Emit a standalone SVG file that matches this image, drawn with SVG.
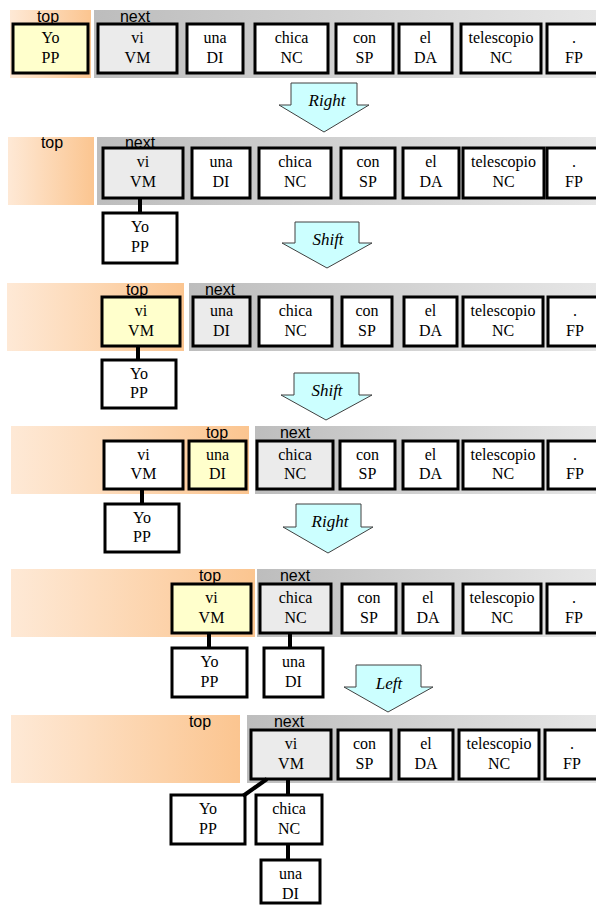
<svg xmlns="http://www.w3.org/2000/svg" width="596" height="905" viewBox="0 0 596 905">
<defs>
<linearGradient id="gTop" x1="0" y1="0" x2="1" y2="0"><stop offset="0" stop-color="#fee9d6"/><stop offset="1" stop-color="#fbc590"/></linearGradient>
<linearGradient id="gNext" x1="0" y1="0" x2="1" y2="0"><stop offset="0" stop-color="#bdbdbd"/><stop offset="1" stop-color="#e6e6e6"/></linearGradient>
<style>
.n{font-family:'Liberation Serif','Times New Roman',serif;font-size:16px;text-anchor:middle}
.n rect{stroke:#000;stroke-width:3;fill:#fff}
.n.g rect{fill:#ebebeb}
.n.y rect{fill:#ffffcc}
.lbl{font-family:'Liberation Sans',Arial,sans-serif;font-size:16px;text-anchor:middle;fill:#000}
.tb{fill:url(#gTop)}
.nb{fill:url(#gNext)}
.arr{font-family:'Liberation Serif','Times New Roman',serif;font-style:italic;font-size:17px;text-anchor:middle}
.arr path{fill:#ccffff;stroke:#404040;stroke-width:1}
.c line{stroke:#000;stroke-width:4}
</style>
</defs>

<g id="row1">
<rect class="tb" x="10" y="10" width="81" height="68"/>
<rect class="nb" x="94" y="10" width="502" height="68"/>
<text class="lbl" x="48" y="22">top</text>
<text class="lbl" x="135" y="22">next</text>
<g id="r1-yo" class="n y"><rect x="13" y="24" width="75" height="49"/><text x="50.5" y="43">Yo</text><text x="50.5" y="63">PP</text></g>
<g id="r1-vi" class="n g"><rect x="98" y="24" width="79" height="49"/><text x="137.5" y="43">vi</text><text x="137.5" y="63">VM</text></g>
<g id="r1-una" class="n"><rect x="187" y="24" width="56" height="49"/><text x="215" y="43">una</text><text x="215" y="63">DI</text></g>
<g id="r1-chica" class="n"><rect x="255" y="24" width="73" height="49"/><text x="291.5" y="43">chica</text><text x="291.5" y="63">NC</text></g>
<g id="r1-con" class="n"><rect x="336" y="24" width="57" height="49"/><text x="364.5" y="43">con</text><text x="364.5" y="63">SP</text></g>
<g id="r1-el" class="n"><rect x="399" y="24" width="53" height="49"/><text x="425.5" y="43">el</text><text x="425.5" y="63">DA</text></g>
<g id="r1-tel" class="n"><rect x="461" y="24" width="80" height="49"/><text x="501" y="43">telescopio</text><text x="501" y="63">NC</text></g>
<g id="r1-fp" class="n"><rect x="547" y="24" width="54" height="49"/><text x="574" y="43">.</text><text x="574" y="63">FP</text></g>
</g>

<g id="arrow1" class="arr"><path d="M291,83 H357 V105 H369 L324,132 L279,105 H291 Z"/><text x="327" y="106">Right</text></g>

<g id="row2">
<rect class="tb" x="8" y="137" width="86" height="68"/>
<rect class="nb" x="97" y="137" width="499" height="68"/>
<text class="lbl" x="52" y="148">top</text>
<text class="lbl" x="140" y="148">next</text>
<g id="r2-vi" class="n g"><rect x="103" y="148" width="80" height="50"/><text x="143" y="167">vi</text><text x="143" y="187">VM</text></g>
<g id="r2-una" class="n"><rect x="192" y="148" width="58" height="50"/><text x="221" y="167">una</text><text x="221" y="187">DI</text></g>
<g id="r2-chica" class="n"><rect x="259" y="148" width="72" height="50"/><text x="295" y="167">chica</text><text x="295" y="187">NC</text></g>
<g id="r2-con" class="n"><rect x="341" y="148" width="54" height="50"/><text x="368" y="167">con</text><text x="368" y="187">SP</text></g>
<g id="r2-el" class="n"><rect x="403" y="148" width="56" height="50"/><text x="431" y="167">el</text><text x="431" y="187">DA</text></g>
<g id="r2-tel" class="n"><rect x="463" y="148" width="81" height="50"/><text x="503.5" y="167">telescopio</text><text x="503.5" y="187">NC</text></g>
<g id="r2-fp" class="n"><rect x="547" y="148" width="54" height="50"/><text x="574" y="167">.</text><text x="574" y="187">FP</text></g>
<g id="r2-yo" class="n"><rect x="103" y="213" width="74" height="50"/><text x="140" y="232">Yo</text><text x="140" y="252">PP</text></g>
</g>

<g id="arrow2" class="arr"><path d="M295,222 H359 V243 H372 L327,268 L282,243 H295 Z"/><text x="328" y="245">Shift</text></g>

<g id="row3">
<rect class="tb" x="7" y="283" width="177" height="68"/>
<rect class="nb" x="189" y="283" width="407" height="68"/>
<text class="lbl" x="137" y="295">top</text>
<text class="lbl" x="220" y="295">next</text>
<g id="r3-vi" class="n y"><rect x="102" y="297" width="78" height="49"/><text x="141" y="316">vi</text><text x="141" y="336">VM</text></g>
<g id="r3-una" class="n g"><rect x="193" y="297" width="57" height="49"/><text x="221.5" y="316">una</text><text x="221.5" y="336">DI</text></g>
<g id="r3-chica" class="n"><rect x="259" y="297" width="73" height="49"/><text x="295.5" y="316">chica</text><text x="295.5" y="336">NC</text></g>
<g id="r3-con" class="n"><rect x="342" y="297" width="50" height="49"/><text x="367" y="316">con</text><text x="367" y="336">SP</text></g>
<g id="r3-el" class="n"><rect x="404" y="297" width="53" height="49"/><text x="430.5" y="316">el</text><text x="430.5" y="336">DA</text></g>
<g id="r3-tel" class="n"><rect x="463" y="297" width="80" height="49"/><text x="503" y="316">telescopio</text><text x="503" y="336">NC</text></g>
<g id="r3-fp" class="n"><rect x="548" y="297" width="54" height="49"/><text x="575" y="316">.</text><text x="575" y="336">FP</text></g>
<g id="r3-yo" class="n"><rect x="102" y="360" width="74" height="48"/><text x="139" y="379">Yo</text><text x="139" y="398">PP</text></g>
</g>

<g id="arrow3" class="arr"><path d="M294,373 H359 V395 H372 L326,420 L281,395 H294 Z"/><text x="327" y="396">Shift</text></g>

<g id="row4">
<rect class="tb" x="11" y="426" width="238" height="68"/>
<rect class="nb" x="255" y="426" width="341" height="68"/>
<text class="lbl" x="217" y="438">top</text>
<text class="lbl" x="295" y="438">next</text>
<g id="r4-vi" class="n"><rect x="104" y="441" width="79" height="48"/><text x="143.5" y="460">vi</text><text x="143.5" y="479">VM</text></g>
<g id="r4-una" class="n y"><rect x="189" y="441" width="57" height="48"/><text x="217.5" y="460">una</text><text x="217.5" y="479">DI</text></g>
<g id="r4-chica" class="n g"><rect x="257" y="441" width="76" height="48"/><text x="295" y="460">chica</text><text x="295" y="479">NC</text></g>
<g id="r4-con" class="n"><rect x="340" y="441" width="55" height="48"/><text x="367.5" y="460">con</text><text x="367.5" y="479">SP</text></g>
<g id="r4-el" class="n"><rect x="403" y="441" width="55" height="48"/><text x="430.5" y="460">el</text><text x="430.5" y="479">DA</text></g>
<g id="r4-tel" class="n"><rect x="463" y="441" width="80" height="48"/><text x="503" y="460">telescopio</text><text x="503" y="479">NC</text></g>
<g id="r4-fp" class="n"><rect x="548" y="441" width="54" height="48"/><text x="575" y="460">.</text><text x="575" y="479">FP</text></g>
<g id="r4-yo" class="n"><rect x="105" y="504" width="74" height="48"/><text x="142" y="523">Yo</text><text x="142" y="542">PP</text></g>
</g>

<g id="arrow4" class="arr"><path d="M296,504 H361 V527 H373 L328,553 L283,527 H296 Z"/><text x="330" y="527">Right</text></g>

<g id="row5">
<rect class="tb" x="11" y="569" width="244" height="68"/>
<rect class="nb" x="257" y="569" width="339" height="68"/>
<text class="lbl" x="210" y="581">top</text>
<text class="lbl" x="295" y="581">next</text>
<g id="r5-vi" class="n y"><rect x="172" y="584" width="79" height="49"/><text x="211.5" y="603">vi</text><text x="211.5" y="623">VM</text></g>
<g id="r5-chica" class="n g"><rect x="260" y="584" width="71" height="49"/><text x="295.5" y="603">chica</text><text x="295.5" y="623">NC</text></g>
<g id="r5-con" class="n"><rect x="342" y="584" width="54" height="49"/><text x="369" y="603">con</text><text x="369" y="623">SP</text></g>
<g id="r5-el" class="n"><rect x="403" y="584" width="50" height="49"/><text x="428" y="603">el</text><text x="428" y="623">DA</text></g>
<g id="r5-tel" class="n"><rect x="463" y="584" width="78" height="49"/><text x="502" y="603">telescopio</text><text x="502" y="623">NC</text></g>
<g id="r5-fp" class="n"><rect x="547" y="584" width="54" height="49"/><text x="574" y="603">.</text><text x="574" y="623">FP</text></g>
<g id="r5-yo" class="n"><rect x="172" y="648" width="75" height="49"/><text x="209.5" y="667">Yo</text><text x="209.5" y="687">PP</text></g>
<g id="r5-una" class="n"><rect x="264" y="648" width="59" height="49"/><text x="293.5" y="667">una</text><text x="293.5" y="687">DI</text></g>
</g>

<g id="arrow5" class="arr"><path d="M356,665 H421 V687 H433 L388,712 L344,687 H356 Z"/><text x="389" y="689">Left</text></g>

<g id="row6">
<rect class="tb" x="11" y="715" width="229" height="68"/>
<rect class="nb" x="247" y="715" width="349" height="68"/>
<text class="lbl" x="200" y="727">top</text>
<text class="lbl" x="289" y="727">next</text>
<g id="r6-vi" class="n g"><rect x="251" y="730" width="80" height="49"/><text x="291" y="749">vi</text><text x="291" y="769">VM</text></g>
<g id="r6-con" class="n"><rect x="338" y="730" width="53" height="49"/><text x="364.5" y="749">con</text><text x="364.5" y="769">SP</text></g>
<g id="r6-el" class="n"><rect x="399" y="730" width="54" height="49"/><text x="426" y="749">el</text><text x="426" y="769">DA</text></g>
<g id="r6-tel" class="n"><rect x="459" y="730" width="80" height="49"/><text x="499" y="749">telescopio</text><text x="499" y="769">NC</text></g>
<g id="r6-fp" class="n"><rect x="545" y="730" width="54" height="49"/><text x="572" y="749">.</text><text x="572" y="769">FP</text></g>
<g id="r6-yo" class="n"><rect x="171" y="795" width="74" height="49"/><text x="208" y="814">Yo</text><text x="208" y="834">PP</text></g>
<g id="r6-chica" class="n"><rect x="256" y="795" width="66" height="49"/><text x="289" y="814">chica</text><text x="289" y="834">NC</text></g>
<g id="r6-una" class="n"><rect x="261" y="860" width="59" height="43"/><text x="290.5" y="879">una</text><text x="290.5" y="899">DI</text></g>
</g>

<g id="connectors" class="c">
<line x1="140" y1="198" x2="140" y2="213"/>
<line x1="138" y1="346" x2="138" y2="360"/>
<line x1="142" y1="489" x2="142" y2="504"/>
<line x1="209" y1="633" x2="209" y2="648"/>
<line x1="290" y1="633" x2="290" y2="648"/>
<line x1="267" y1="779" x2="243" y2="796"/>
<line x1="288" y1="779" x2="288" y2="795"/>
<line x1="288" y1="844" x2="288" y2="860"/>
</g>
</svg>
